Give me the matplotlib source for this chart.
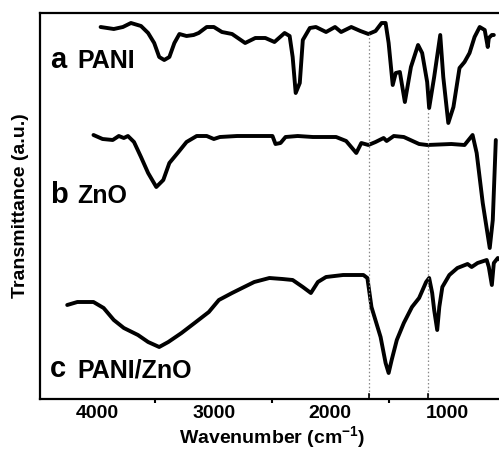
import matplotlib
matplotlib.use("Agg")
import matplotlib.pyplot as plt
from matplotlib.ticker import FixedLocator

plt.rcParams['font.family'] = ['Liberation Sans', 'DejaVu Sans']
plt.rcParams['font.weight'] = 'bold'
plt.rcParams['mathtext.fontset'] = 'custom'
plt.rcParams['mathtext.rm'] = 'Liberation Sans:bold'
plt.rcParams['mathtext.bf'] = 'Liberation Sans:bold'

# Spectrum a: PANI
wn_a = [3968, 3855, 3777, 3708, 3622, 3561, 3509, 3466, 3423, 3379, 3336, 3293, 3232, 3171,
        3128, 3059, 2998, 2929, 2842, 2730, 2643, 2557, 2479, 2392, 2349, 2323, 2297, 2262,
        2236, 2176, 2124, 2037, 1960, 1908, 1821, 1743, 1674, 1613, 1561, 1527, 1501, 1466,
        1440, 1405, 1362, 1310, 1249, 1214, 1171, 1154, 1111, 1059, 1033, 990, 946, 894,
        851, 808, 765, 721, 678, 652, 643, 617, 600]
t_a = [373, 371, 373, 377, 374, 367, 357, 343, 340, 343, 357, 366, 364, 365,
       367, 373, 373, 368, 366, 357, 362, 362, 358, 367, 364, 343, 307, 317,
       360, 372, 373, 368, 373, 368, 373, 369, 366, 369, 377, 377, 357, 315,
       327, 328, 298, 333, 355, 347, 318, 292, 323, 365, 323, 277, 293, 332,
       338, 347, 363, 373, 370, 353, 362, 365, 365]

# Spectrum b: ZnO
wn_b = [4029, 3951, 3864, 3812, 3769, 3734, 3682, 3622, 3561, 3491, 3431, 3379, 3301, 3232,
        3145, 3059, 2998, 2946, 2799, 2652, 2496, 2470, 2427, 2384, 2280, 2150, 1951, 1865,
        1778, 1735, 1674, 1613, 1544, 1518, 1457, 1371, 1240, 1171, 964, 851, 782, 747,
        695, 635, 609, 583]
t_b = [265, 261, 260, 264, 262, 264, 258, 243, 227, 213, 220, 237, 248, 258,
       264, 264, 261, 263, 264, 264, 264, 256, 257, 263, 264, 263, 263, 259,
       247, 257, 255, 258, 262, 259, 264, 263, 256, 255, 256, 255, 265, 247,
       197, 152, 180, 260]

# Spectrum c: PANI/ZnO
wn_c = [4254, 4167, 4029, 3942, 3855, 3769, 3648, 3561, 3466, 3388, 3275, 3163, 3041, 2955,
        2842, 2756, 2652, 2522, 2410, 2323, 2236, 2167, 2107, 2037, 1891, 1717, 1683, 1648,
        1570, 1527, 1501, 1475, 1431, 1371, 1301, 1240, 1180, 1154, 1128, 1111, 1085, 1067,
        1041, 981, 912, 825, 790, 739, 661, 643, 617, 600, 566, 523]
t_c = [95, 98, 98, 92, 80, 72, 65, 58, 53, 58, 67, 77, 88, 100,
       107, 112, 118, 122, 121, 120, 113, 107, 118, 123, 125, 125, 122, 93,
       63, 37, 27, 40, 60, 77, 93, 102, 118, 122, 107, 90, 70, 93,
       113, 125, 132, 136, 133, 137, 140, 133, 115, 137, 142, 138]

# Reference (dotted) lines
ref_wn = [1665, 1163]
ref_top = [366, 290]

labels = [("a", "PANI", 332), ("b", "ZnO", 197), ("c", "PANI/ZnO", 23)]
major_ticks = [4000, 3000, 2000, 1000]
minor_ticks = [4500, 3500, 2500, 1500]

fig = plt.figure(figsize=(4.99, 4.5), dpi=100)
ax = fig.add_axes([40/499, 1 - 399/450, 1 - 40/499 + 0.01, (399 - 13)/450])

for wn, t in [(wn_a, t_a), (wn_b, t_b), (wn_c, t_c)]:
    ax.plot(wn, t, color='black', lw=2.8, solid_joinstyle='round', solid_capstyle='round')

for w, top in zip(ref_wn, ref_top):
    ax.plot([w, w], [1, top], color='#888888', lw=0.9, ls=(0, (1.2, 1.8)))
    ax.plot([w, w], [1, 6], color='black', lw=1.2)

for letter, name, y in labels:
    ax.text(4401, y, letter, fontsize=21, fontweight='bold', ha='left', va='baseline')
    ax.text(4167, y, name, fontsize=18, fontweight='bold', ha='left', va='baseline')

ax.set_xlim(4487, 513)
ax.set_ylim(1, 387)
ax.xaxis.set_major_locator(FixedLocator(major_ticks))
ax.xaxis.set_minor_locator(FixedLocator(minor_ticks))
ax.tick_params(axis='x', which='major', length=0, pad=4, labelsize=14)
ax.tick_params(axis='x', which='minor', length=3, width=1.5, direction='out')
ax.set_yticks([])
for lab in ax.get_xticklabels():
    lab.set_fontweight('bold')
for s in ax.spines.values():
    s.set_linewidth(1.6)

ax.set_xlabel("Wavenumber (cm$^{-1}$)", fontsize=14, fontweight='bold', labelpad=2)
ax.set_ylabel("Transmittance (a.u.)", fontsize=14, fontweight='bold', labelpad=8)

fig.savefig("out.png", dpi=100)
